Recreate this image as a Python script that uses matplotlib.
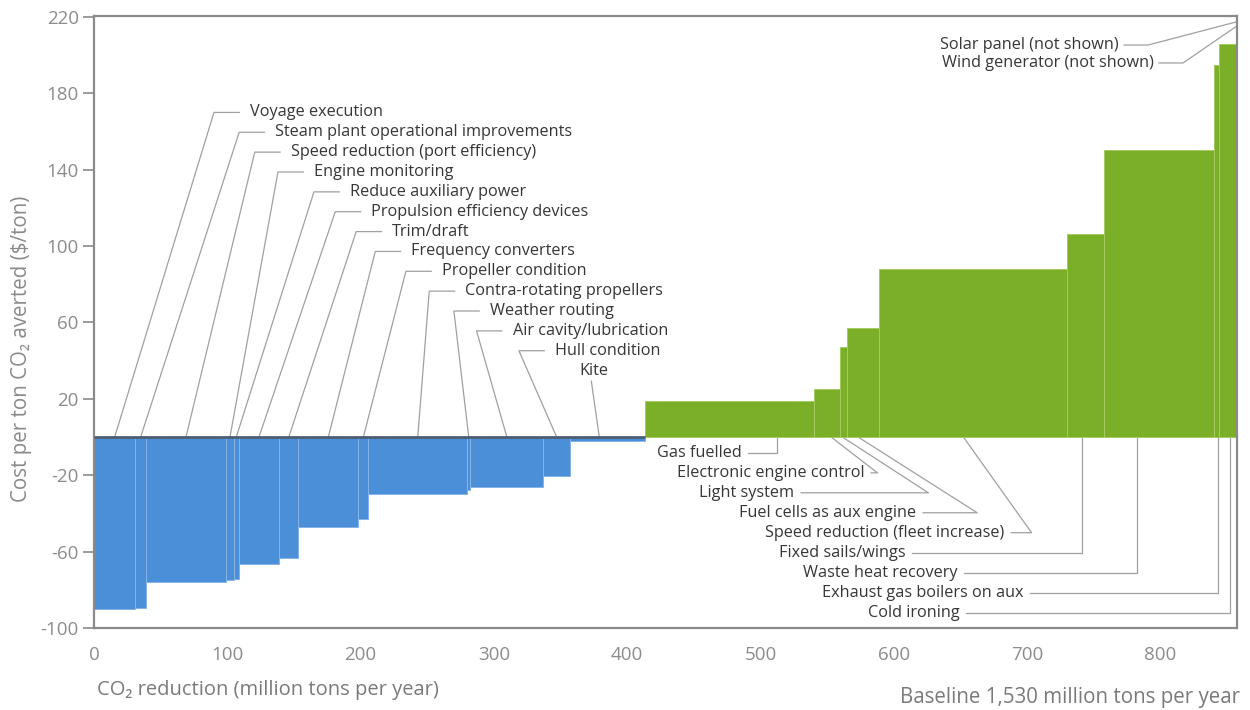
import numpy as np
import matplotlib
matplotlib.use("Agg")
import matplotlib.pyplot as plt

plt.rcParams['font.family'] = ['Open Sans', 'DejaVu Sans']
plt.rcParams['axes.unicode_minus'] = False

# ---------------- data ----------------
neg_labels = ["Voyage execution", "Steam plant operational improvements",
              "Speed reduction (port efficiency)", "Engine monitoring",
              "Reduce auxiliary power", "Propulsion efficiency devices",
              "Trim/draft", "Frequency converters", "Propeller condition",
              "Contra-rotating propellers", "Weather routing",
              "Air cavity/lubrication", "Hull condition", "Kite"]
neg_widths = [31, 8, 60, 6, 3.5, 30.5, 14.3, 45, 7.6, 74, 2.5, 54.7, 20, 56.4]
neg_costs = [-90, -89.5, -76, -75, -74.5, -66.5, -63.5, -47, -43, -29.7,
             -27.5, -26, -20.5, -2]

pos_labels = ["Gas fuelled", "Electronic engine control", "Light system",
              "Fuel cells as aux engine", "Speed reduction (fleet increase)",
              "Fixed sails/wings", "Waste heat recovery",
              "Exhaust gas boilers on aux", "Cold ironing"]
pos_widths = [126.5, 20, 5, 23.6, 141.4, 27.5, 82.5, 3.8, 13.7]
pos_costs = [19, 25, 47, 57, 88, 106.5, 150.5, 195, 206]

not_shown_labels = ["Solar panel (not shown)", "Wind generator (not shown)"]

x_ticks = [0, 100, 200, 300, 400, 500, 600, 700, 800]
y_ticks = [220, 180, 140, 100, 60, 20, -20, -60, -100]
y_tick_labels = ["220", "180", "140", "100", "60", "20", "-20", "-60", "-100"]

# ---------------- styles / layout ----------------
BLUE = '#4b8fd8'
BLUE_EDGE = '#86b4e6'
GREEN = '#7caf28'
GREEN_EDGE = '#a5cb62'
LEADER = '#a0a0a0'
TXT = '#363636'
AXC = '#8a8a8a'
FS = 11.7

# label elbow x for the negative labels (leader line corners)
neg_corner_x = [90, 108.9, 120.6, 138, 165, 181, 196.7, 211, 234, 251.5, 270, 287, 318.8]
neg_anchor_frac = [0.5] * 13 + [0.39]

pos_text_right = [485.7, 578, 525.5, 617, 683, 609, 648, 697.4, 649.4]
pos_corner_x = [None, 587.8, 626, 662.6, 703.4, None, None, None, None]
pos_anchor_frac = [0.78, 0.65, 0.3, 0.35, 0.45, 0.41, 0.3, 0.9, 0.6]

fig = plt.figure(figsize=(12.5, 7.1), dpi=100)
ax = fig.add_axes([94 / 1250, 1 - 628 / 710, (1237 - 94) / 1250, (628 - 16) / 710])

all_w = np.array(neg_widths + pos_widths, dtype=float)
lefts = np.concatenate([[0.0], np.cumsum(all_w)[:-1]])
nb = len(neg_widths)
neg_left = lefts[:nb]
pos_left = lefts[nb:]

ax.bar(neg_left, neg_costs, width=neg_widths, align='edge', color=BLUE,
       edgecolor=BLUE_EDGE, linewidth=0.7, zorder=2)
ax.bar(pos_left, pos_costs, width=pos_widths, align='edge', color=GREEN,
       edgecolor=GREEN_EDGE, linewidth=0.7, zorder=2)
ax.plot([0, pos_left[0]], [0, 0], color='#4d5e74', lw=2.0, zorder=3,
        solid_capstyle='butt')

x_end = lefts[-1] + all_w[-1]
ax.set_xlim(0, x_end)
ax.set_ylim(-100, 220.5)

# ---------------- negative labels ----------------
for i, lab in enumerate(neg_labels):
    anchor = neg_left[i] + neg_anchor_frac[i] * neg_widths[i]
    ty = 170 - 10.4 * i
    if i < len(neg_corner_x):
        cx = neg_corner_x[i]
        ax.plot([anchor, cx, cx + 19], [0, ty, ty], color=LEADER, lw=0.9,
                zorder=1)
        ax.text(cx + 27, ty, lab, ha='left', va='center', fontsize=FS,
                color=TXT)
    else:
        ax.plot([anchor, anchor - 6], [0, ty - 5.5], color=LEADER, lw=0.9,
                zorder=1)
        ax.text(anchor - 4, ty, lab, ha='center', va='center', fontsize=FS,
                color=TXT)

# ---------------- positive labels ----------------
for i, lab in enumerate(pos_labels):
    anchor = pos_left[i] + pos_anchor_frac[i] * pos_widths[i]
    ty = -8.3 - 10.45 * i
    tr = pos_text_right[i]
    cx = pos_corner_x[i] if pos_corner_x[i] is not None else anchor
    ax.plot([tr + 5, cx, anchor], [ty, ty, 0], color=LEADER, lw=0.9,
            zorder=1)
    ax.text(tr, ty, lab, ha='right', va='center', fontsize=FS, color=TXT)

# ---------------- not shown labels ----------------
ns_text_right = [768.8, 795]
ns_y = [205.3, 195.9]
ns_end_y = [217.5, 215.3]
for lab, tr, ty, ey in zip(not_shown_labels, ns_text_right, ns_y, ns_end_y):
    ax.plot([tr + 4, tr + 22, x_end], [ty, ty, ey], color=LEADER, lw=0.9,
            zorder=1, clip_on=False)
    ax.text(tr, ty, lab, ha='right', va='center', fontsize=FS, color=TXT)

# ---------------- axes styling ----------------
for sp in ax.spines.values():
    sp.set_color(AXC)
    sp.set_linewidth(1.6)

ax.set_yticks(y_ticks)
ax.set_yticklabels(y_tick_labels)
ax.set_xticks(x_ticks)
ax.set_xticklabels([str(v) for v in x_ticks])
ax.tick_params(axis='y', length=8, width=1.2, color=AXC, labelcolor='#8c8c8c',
               labelsize=13.5, pad=3)
ax.tick_params(axis='x', length=0, pad=13, labelcolor='#8c8c8c', labelsize=13.5)

fig.text(0.0174, 0.508, "Cost per ton CO\u2082 averted (\\$/ton)", rotation=90,
         ha='center', va='center', fontsize=14.8, color='#8a8a8a')
fig.text(97 / 1250, 1 - 690 / 710, "CO\u2082 reduction (million tons per year)",
         ha='left', va='center', fontsize=14.5, color='#7a7a7a')
fig.text(1240 / 1250, 1 - 697 / 710, "Baseline 1,530 million tons per year",
         ha='right', va='center', fontsize=14.8, color='#7a7a7a')

fig.savefig("out.png", dpi=100, facecolor='white')
